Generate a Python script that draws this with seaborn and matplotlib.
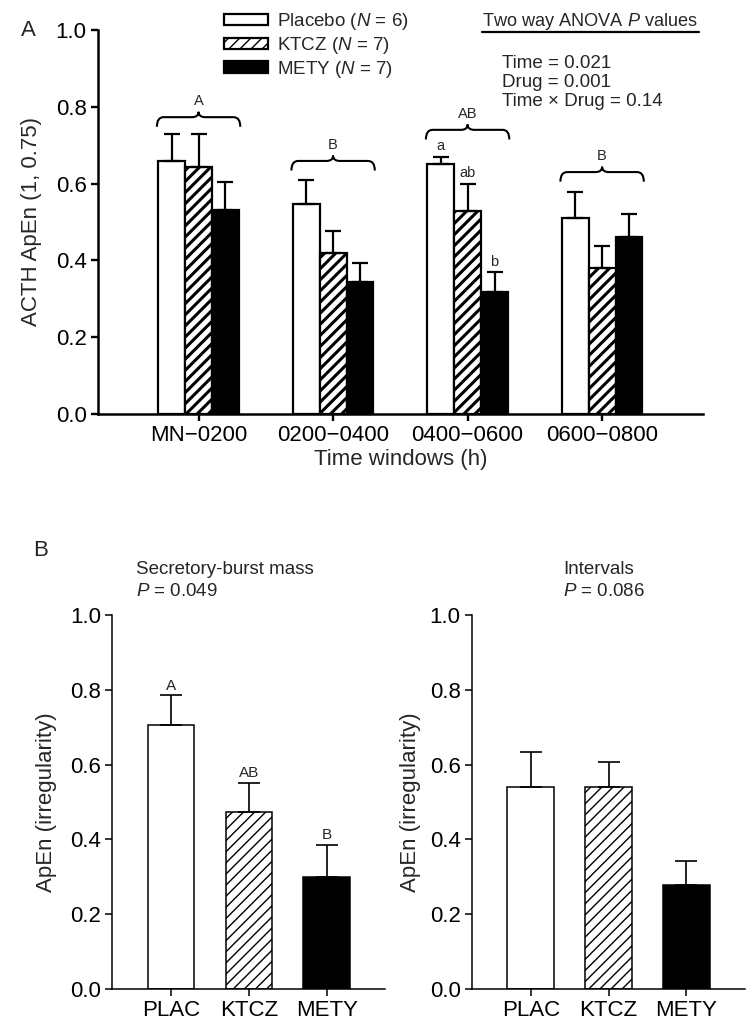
import numpy as np
import pandas as pd
import matplotlib
matplotlib.use("Agg")
import matplotlib.pyplot as plt
import seaborn as sns
from matplotlib.patches import Patch, PathPatch
from matplotlib.path import Path
from matplotlib.lines import Line2D
from matplotlib.container import BarContainer

# ---------------- data ----------------
windows = ["MN\u22120200", "0200\u22120400", "0400\u22120600", "0600\u22120800"]
drugs = ["Placebo", "KTCZ", "METY"]
legend_labels = ["Placebo ($N$ = 6)", "KTCZ ($N$ = 7)", "METY ($N$ = 7)"]
placebo_mean = [0.660, 0.548, 0.651, 0.511]
placebo_sem = [0.070, 0.061, 0.019, 0.067]
ktcz_mean = [0.642, 0.419, 0.529, 0.379]
ktcz_sem = [0.087, 0.058, 0.071, 0.059]
mety_mean = [0.531, 0.343, 0.319, 0.460]
mety_sem = [0.074, 0.049, 0.050, 0.062]
window_letters = ["A", "B", "AB", "B"]
brace_levels = [0.773, 0.659, 0.740, 0.630]
pairwise_window = "0400\u22120600"
pairwise_letters = ["a", "ab", "b"]

groups_b = ["PLAC", "KTCZ", "METY"]
burst_mean = [0.706, 0.472, 0.299]
burst_sem = [0.079, 0.079, 0.087]
burst_letters = ["A", "AB", "B"]
interval_mean = [0.540, 0.540, 0.278]
interval_sem = [0.095, 0.067, 0.063]

anova_lines = ["Time = 0.021", "Drug = 0.001", "Time \u00d7 Drug = 0.14"]

# ---------------- style ----------------
sns.set_style("ticks")
plt.rcParams["font.family"] = ["Liberation Sans", "DejaVu Sans"]
plt.rcParams["mathtext.fontset"] = "custom"
plt.rcParams["mathtext.rm"] = "Liberation Sans"
plt.rcParams["mathtext.it"] = "Liberation Sans:italic"
plt.rcParams["axes.unicode_minus"] = True

W, H = 756, 1032
fig = plt.figure(figsize=(W / 100, H / 100), dpi=100)


def fx(px):
    return px / W


def fy(py):
    return 1 - py / H


fill = {"Placebo": "white", "KTCZ": "white", "METY": "black"}
fill_b = {"PLAC": "white", "KTCZ": "white", "METY": "black"}


def set_hatch(bar, pattern, lw):
    bar.set_hatch(pattern)
    if hasattr(bar, "set_hatch_linewidth"):
        bar.set_hatch_linewidth(lw)


def draw_brace(ax, x0, x1, y, h=0.025, p=0.014, r=0.05, lw=1.5):
    xm = (x0 + x1) / 2
    verts = [(x0, y - h), (x0, y), (x0 + r, y),
             (xm - r, y), (xm, y), (xm, y + p),
             (xm, y), (xm + r, y),
             (x1 - r, y), (x1, y), (x1, y - h)]
    codes = [Path.MOVETO, Path.CURVE3, Path.CURVE3,
             Path.LINETO, Path.CURVE3, Path.CURVE3,
             Path.CURVE3, Path.CURVE3,
             Path.LINETO, Path.CURVE3, Path.CURVE3]
    ax.add_patch(PathPatch(Path(verts, codes), fill=False, lw=lw,
                           edgecolor="black", capstyle="butt"))


# ---------------- panel A ----------------
axA = fig.add_axes([fx(97.7), fy(414), fx(703 - 97.7), (414 - 30) / H])
rows = []
for d, m in zip(drugs, [placebo_mean, ktcz_mean, mety_mean]):
    for w, v in zip(windows, m):
        rows.append((w, d, v))
df_a = pd.DataFrame(rows, columns=["window", "drug", "value"])
sns.barplot(data=df_a, x="window", y="value", hue="drug", order=windows,
            hue_order=drugs, palette=fill, saturation=1, width=0.6, gap=0,
            errorbar=None, edgecolor="black", linewidth=1.6, legend=False,
            ax=axA)

means_a = [placebo_mean, ktcz_mean, mety_mean]
sems_a = [placebo_sem, ktcz_sem, mety_sem]
bar_conts = [c for c in axA.containers if isinstance(c, BarContainer)]
centers = {}
for i, cont in enumerate(bar_conts):
    xs = [b.get_x() + b.get_width() / 2 for b in cont]
    centers[drugs[i]] = xs
    axA.errorbar(xs, means_a[i], yerr=[np.zeros(len(xs)), sems_a[i]],
                 fmt="none", ecolor="black", elinewidth=1.6, capsize=5.5,
                 capthick=1.6, zorder=3)
    if drugs[i] == "KTCZ":
        for b in cont:
            set_hatch(b, "///", 2.2)

# braces and letters
for gi, (lvl, let) in enumerate(zip(brace_levels, window_letters)):
    x0 = centers["Placebo"][gi] - 0.1 - 0.01
    x1 = centers["METY"][gi] + 0.1 + 0.01
    draw_brace(axA, x0, x1, lvl)
    axA.text((x0 + x1) / 2, lvl + 0.042, let, ha="center", va="center",
             fontsize=10.5)

gi = windows.index(pairwise_window)
for i, let in enumerate(pairwise_letters):
    axA.text(centers[drugs[i]][gi], means_a[i][gi] + sems_a[i][gi] + 0.027,
             let, ha="center", va="center", fontsize=10.5)

axA.set_xlim(-0.75, 3.75)
axA.set_ylim(0, 1.0)
axA.set_yticks(np.arange(0, 1.01, 0.2))
axA.set_yticklabels([f"{v:.1f}" for v in np.arange(0, 1.01, 0.2)])
axA.set_xlabel("Time windows (h)", fontsize=16, labelpad=2)
axA.set_ylabel("ACTH ApEn (1, 0.75)", fontsize=16)
axA.yaxis.set_label_coords(-0.092, 0.5)
axA.tick_params(axis="both", length=5, width=1.7, labelsize=16, pad=3,
                color="black", labelcolor="black")
for s in ["top", "right"]:
    axA.spines[s].set_visible(False)
for s in ["left", "bottom"]:
    axA.spines[s].set_linewidth(1.8)
    axA.spines[s].set_color("black")

# legend
handles = []
for d in drugs:
    p = Patch(facecolor=fill[d], edgecolor="black", linewidth=1.6,
              hatch="///" if d == "KTCZ" else None)
    handles.append(p)
leg = fig.legend(handles, legend_labels, loc="upper left",
                 bbox_to_anchor=(fx(224), fy(11)), frameon=False,
                 fontsize=13.5, handlelength=2.35, handleheight=0.55,
                 handletextpad=0.5, labelspacing=0.15, borderpad=0,
                 borderaxespad=0)

fig.text(fx(482), fy(22), "Two way ANOVA $P$ values", fontsize=13.1,
         ha="left", va="center")
fig.add_artist(Line2D([fx(482), fx(699)], [fy(32), fy(32)], color="black",
                      lw=1.6))
for k, line in enumerate(anova_lines):
    fig.text(fx(502), fy(64 + 18.5 * k), line, fontsize=13.5, ha="left",
             va="center")

fig.text(fx(28), fy(31), "A", fontsize=16, ha="center", va="center")
fig.text(fx(41), fy(550), "B", fontsize=16, ha="center", va="center")


# ---------------- panel B ----------------
def panel_b(left_px, means, sems, letters, title, ptext, title_x):
    ax = fig.add_axes([fx(left_px), fy(989), 273 / W, (989 - 615) / H])
    sns.barplot(x=groups_b, y=means, hue=groups_b, palette=fill_b,
                saturation=1, width=0.6, errorbar=None, edgecolor="black",
                linewidth=1.1, legend=False, ax=ax)
    bars = sorted(ax.patches, key=lambda p: p.get_x())
    xs = [b.get_x() + b.get_width() / 2 for b in bars]
    set_hatch(bars[1], "///", 1.0)
    ax.errorbar(xs, means, yerr=[np.zeros(len(xs)), sems], fmt="none",
                ecolor="black", elinewidth=1.2, capsize=7.8, capthick=1.2,
                zorder=3)
    if letters:
        for x, m, s, let in zip(xs, means, sems, letters):
            ax.text(x, m + s + 0.026, let, ha="center", va="center",
                    fontsize=11)
    ax.set_xlim(-0.76, 2.75)
    ax.set_ylim(0, 1.0)
    ax.set_yticks(np.arange(0, 1.01, 0.2))
    ax.set_yticklabels([f"{v:.1f}" for v in np.arange(0, 1.01, 0.2)])
    ax.set_ylabel("ApEn (irregularity)", fontsize=16)
    ax.set_xlabel("")
    ax.tick_params(axis="both", length=5, width=1.1, labelsize=16, pad=3,
                   color="black", labelcolor="black")
    for s in ["top", "right"]:
        ax.spines[s].set_visible(False)
    for s in ["left", "bottom"]:
        ax.spines[s].set_linewidth(1.1)
        ax.spines[s].set_color("black")
    fig.text(fx(title_x), fy(569), title, fontsize=13.5, ha="left",
             va="center")
    fig.text(fx(title_x), fy(592), ptext, fontsize=13.5, ha="left",
             va="center")
    return ax


axB1 = panel_b(112, burst_mean, burst_sem, burst_letters,
               "Secretory-burst mass", "$P$ = 0.049", 136)
axB1.yaxis.set_label_coords(-0.201, 0.5)
axB2 = panel_b(471.7, interval_mean, interval_sem, None,
               "Intervals", "$P$ = 0.086", 563)
axB2.yaxis.set_label_coords(-0.186, 0.5)

fig.savefig("out.png", dpi=100)
